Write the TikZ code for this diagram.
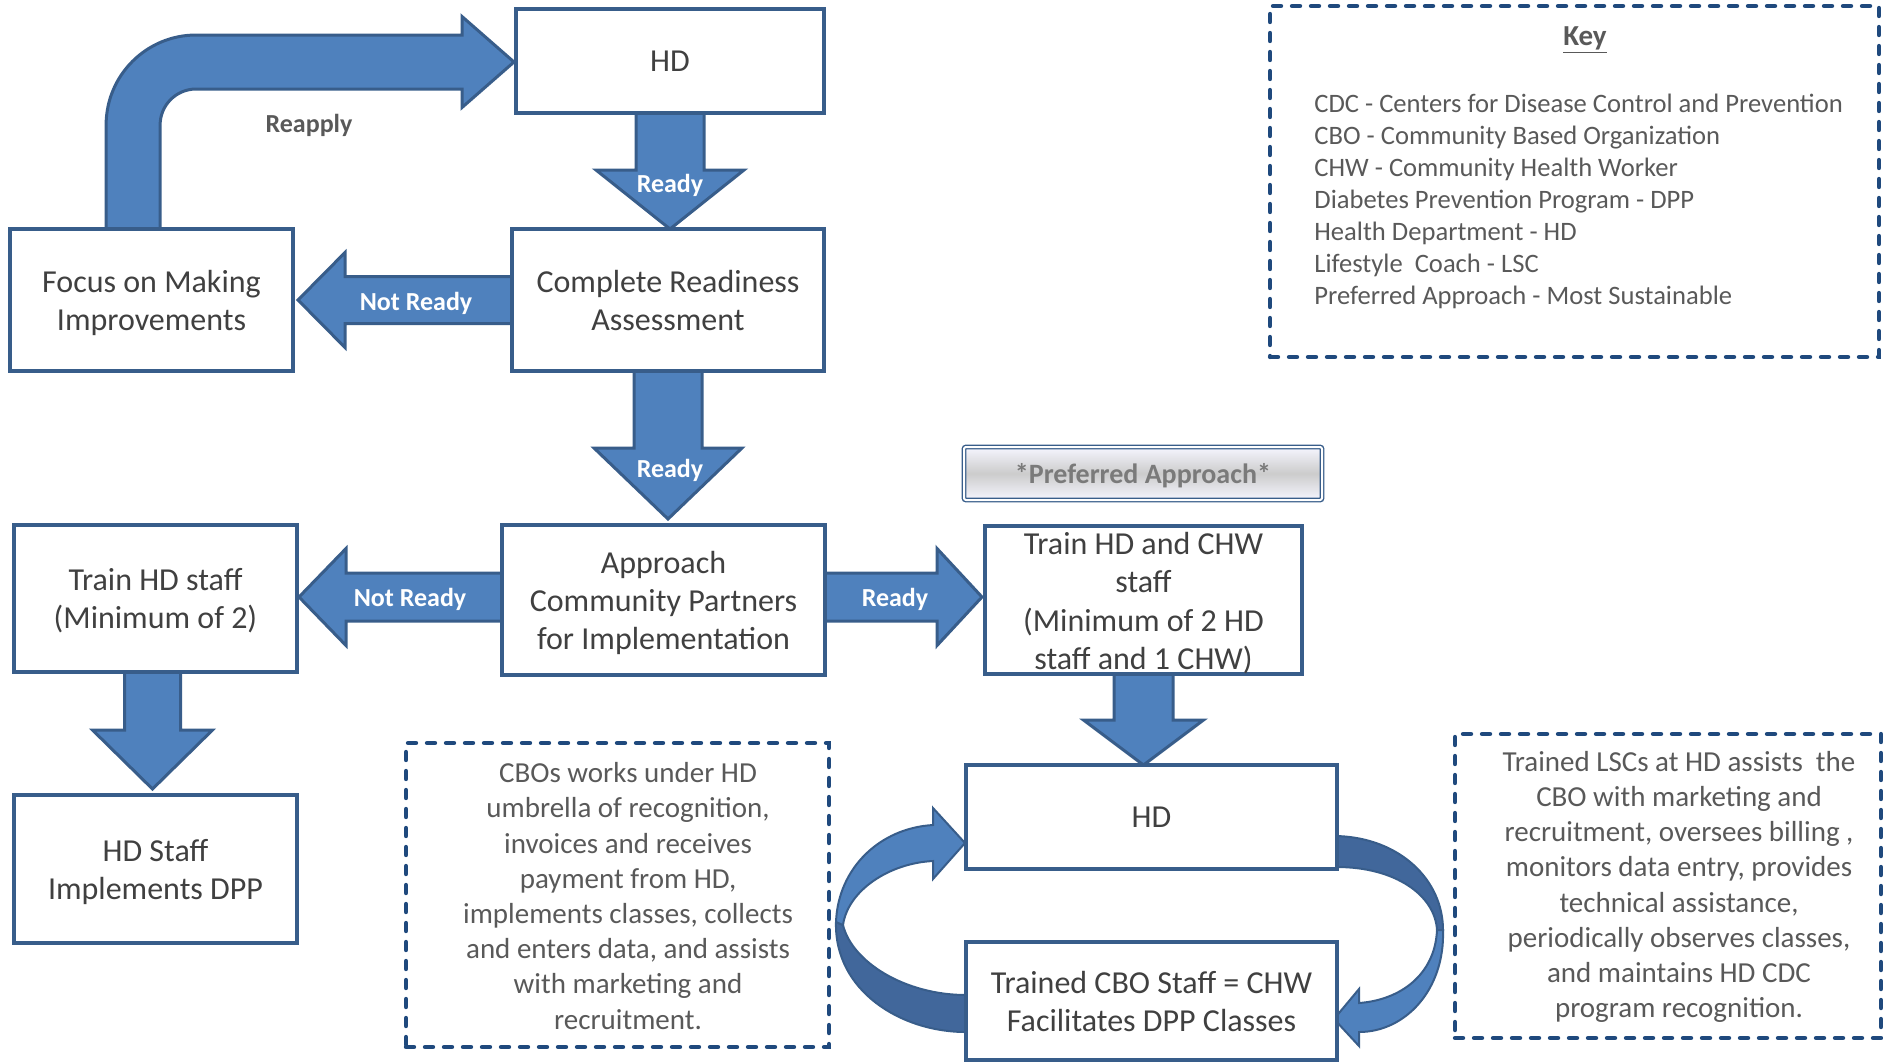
\documentclass[tikz,border=0pt]{standalone}
\usepackage{fontspec}
\setmainfont{Carlito}
\usetikzlibrary{calc}
\pgfdeclarelayer{bg}
\pgfsetlayers{bg,main}
\definecolor{afill}{HTML}{4F81BD}
\definecolor{aline}{HTML}{385D8A}
\definecolor{adark}{HTML}{41679B}
\definecolor{txt}{HTML}{404040}
\definecolor{gtxt}{HTML}{595959}
\definecolor{dashc}{HTML}{1F497D}
\definecolor{preftxt}{HTML}{7A7A7A}

\newcommand\blkdown[5]{%
  \draw[blk] let \p1=(#1), \p2=(#2) in
  (\x1-#3,\y1) -- (\x1-#3,\y2+#5) -- (\x1-#4,\y2+#5) -- (\x1,\y2) -- (\x1+#4,\y2+#5) -- (\x1+#3,\y2+#5) -- (\x1+#3,\y1) -- cycle;}
\newcommand\blkleft[5]{%
  \draw[blk] let \p1=(#1), \p2=(#2) in
  (\x1,\y1+#3) -- (\x2+#5,\y1+#3) -- (\x2+#5,\y1+#4) -- (\x2,\y1) -- (\x2+#5,\y1-#4) -- (\x2+#5,\y1-#3) -- (\x1,\y1-#3) -- cycle;}
\newcommand\blkright[5]{%
  \draw[blk] let \p1=(#1), \p2=(#2) in
  (\x1,\y1+#3) -- (\x2-#5,\y1+#3) -- (\x2-#5,\y1+#4) -- (\x2,\y1) -- (\x2-#5,\y1-#4) -- (\x2-#5,\y1-#3) -- (\x1,\y1-#3) -- cycle;}

\begin{document}
\begin{tikzpicture}[x=0.5pt,y=-0.5pt,
  box/.style={draw=aline, line width=1.75pt, fill=white, inner sep=0pt, outer sep=0pt,
    text=txt, font=\fontsize{16}{19}\selectfont, align=center, text depth=0pt},
  btext/.style={text=txt, font=\fontsize{16}{19.2}\selectfont, align=center, inner sep=0pt},
  blk/.style={fill=afill, draw=aline, line width=1.5pt, line join=miter},
  cdark/.style={fill=adark, draw=aline, line width=1pt},
  clight/.style={fill=afill, draw=aline, line width=1pt},
  lbl/.style={text=white, font=\bfseries\fontsize{13}{15}\selectfont, inner sep=0pt},
  dbox/.style={draw=dashc, line width=2.2pt, dash pattern=on 4pt off 5.5pt, line cap=round,
    inner sep=0pt, outer sep=0pt},
  dtext/.style={text=gtxt, font=\fontsize{14.5}{17.6}\selectfont, align=center, inner sep=0pt},
  keytext/.style={text=gtxt, font=\fontsize{13.3}{16}\selectfont, align=left, inner sep=0pt}
]
\useasboundingbox (0,0) rectangle (1883,1062);

% boxes
\node[box, minimum width=154pt, minimum height=52pt] (HDtop) at (670,61) {HD};
\node[box, minimum width=156pt, minimum height=71pt] (Complete) at (668,300) {Complete Readiness\\Assessment};
\node[box, minimum width=141.5pt, minimum height=71pt] (Focus) at (151.5,300) {Focus on Making\\Improvements};
\node[box, minimum width=161.5pt, minimum height=75pt] (Approach) at (663.5,600) {Approach\\Community Partners\\for Implementation};
\node[box, minimum width=141.5pt, minimum height=73.5pt] (TrainHD) at (155.5,598.5) {Train HD staff\\(Minimum of 2)};
\node[box, minimum width=141.5pt, minimum height=74pt] (HDImpl) at (155.5,869) {HD Staff\\Implements DPP};
\node[box, minimum width=158.5pt, minimum height=74pt] (TrainCHW) at (1143.5,600) {};
\node[btext] (TrainCHWt) at (1143.5,603) {Train HD and CHW\\staff\\(Minimum of 2 HD\\staff and 1 CHW)};
\node[draw=aline, line width=0.7pt, double=white, double distance=1pt, rounded corners=1pt,
      top color=gray!12!blue!4, bottom color=gray!12!blue!4, middle color=gray!40,
      minimum width=179pt, minimum height=26.5pt, inner sep=0pt, text depth=0pt,
      text=preftxt, font=\bfseries\fontsize{14}{16}\selectfont] (Pref) at (1143,473.5) {*Preferred Approach*};
\node[box, minimum width=185.5pt, minimum height=52pt] (HDbot) at (1151.5,817) {HD};
\node[box, minimum width=185.5pt, minimum height=59pt] (CBO) at (1151.5,1001) {Trained CBO Staff = CHW\\Facilitates DPP Classes};

% dashed boxes
\node[dbox, minimum width=304.5pt, minimum height=175.5pt] (Key) at (1574.5,181.5) {};
\node[text=gtxt, font=\bfseries\fontsize{14.5}{16}\selectfont, inner sep=0pt] (KeyTitle) at (1585,40) {\underline{Key}};
\node[keytext, anchor=west] (KeyList) at (1314,201) {CDC - Centers for Disease Control and Prevention\\
CBO - Community Based Organization\\
CHW - Community Health Worker\\
Diabetes Prevention Program - DPP\\
Health Department - HD\\
Lifestyle\ \ Coach - LSC\\
Preferred Approach - Most Sustainable};

\node[dbox, minimum width=211.5pt, minimum height=152pt] (LeftNote) at (617.5,895) {};
\node[dtext] (LeftNoteT) at (628,896) {CBOs works under HD\\umbrella of recognition,\\invoices and receives\\payment from HD,\\implements classes, collects\\and enters data, and assists\\with marketing and\\recruitment.};

\node[dbox, minimum width=213pt, minimum height=152pt] (RightNote) at (1668,886) {};
\node[dtext] (RightNoteT) at (1679,887) {Trained LSCs at HD assists\ \ the\\CBO with marketing and\\recruitment, oversees billing~,\\monitors data entry, provides\\technical assistance,\\periodically observes classes,\\and maintains HD CDC\\program recognition.};

% arrows
\begin{pgfonlayer}{bg}
\blkdown{HDtop.south}{Complete.north}{17pt}{37pt}{29.5pt}
\blkdown{Complete.south}{[yshift=3pt]Approach.north}{17pt}{37pt}{35.5pt}
\blkleft{Complete.west}{[xshift=2.5pt]Focus.east}{11.75pt}{23.75pt}{23.5pt}
\blkleft{[yshift=1.5pt]Approach.west}{[xshift=1pt]TrainHD.east}{12pt}{24.25pt}{23.5pt}
\blkright{[yshift=1.5pt]Approach.east}{[xshift=-1.5pt]TrainCHW.west}{12pt}{24.25pt}{22.5pt}
\blkdown{[xshift=-1.5pt]TrainHD.south}{[yshift=3pt]HDImpl.north}{14pt}{30pt}{29.5pt}
\blkdown{TrainCHW.south}{HDbot.north}{14.75pt}{30pt}{22.5pt}
% reapply bent arrow
\draw[blk] let \p1=($(Focus.north west)!0.435!(Focus.north east)$), \p2=([yshift=-0.5pt,xshift=-1pt]HDtop.west) in
 (\x1-13.5pt,\y1) -- (\x1-13.5pt,\y2-31.5pt) arc[start angle=180,end angle=90,radius=45pt]
 -- (\x2-26pt,\y2+13.5pt) -- (\x2-26pt,\y2+22.75pt) -- (\x2,\y2) -- (\x2-26pt,\y2-22.75pt)
 -- (\x2-26pt,\y2-13.5pt) -- (\x1+31.5pt,\y2-13.5pt) arc[start angle=90,end angle=180,radius=18pt]
 -- (\x1+13.5pt,\y1) -- cycle;
% cycle arrows
\draw[cdark] (836,922) .. controls (834,990) and (900,1032) .. (966,1032) -- (966,995)
  .. controls (905,995) and (852,962) .. (843,925) -- cycle;
\draw[clight] (836,922) .. controls (838,868) and (880,828) .. (933,825) -- (933,808) -- (965,843)
  -- (933,879) -- (933,861) .. controls (890,863) and (848,890) .. (843,925) -- cycle;
\draw[cdark] (1337,836) .. controls (1400,838) and (1443,880) .. (1443,930) -- (1437,930)
  .. controls (1435,895) and (1395,867) .. (1337,867) -- cycle;
\draw[clight] (1443,930) .. controls (1445,990) and (1405,1032) .. (1359,1032) -- (1359,1046)
  -- (1334,1019) -- (1359,989) -- (1359,1003) .. controls (1400,1000) and (1435,975) .. (1437,930) -- cycle;
\end{pgfonlayer}

% labels
\node[lbl] (LReady1) at (670,185) {Ready};
\node[lbl] (LNotReady1) at (416,303) {Not Ready};
\node[text=gtxt, font=\bfseries\fontsize{13}{15}\selectfont, inner sep=0pt] (LReapply) at (309,125) {Reapply};
\node[lbl] (LReady2) at (670,470) {Ready};
\node[lbl] (LNotReady2) at (410,599) {Not Ready};
\node[lbl] (LReady3) at (895,599) {Ready};
\end{tikzpicture}
\end{document}
